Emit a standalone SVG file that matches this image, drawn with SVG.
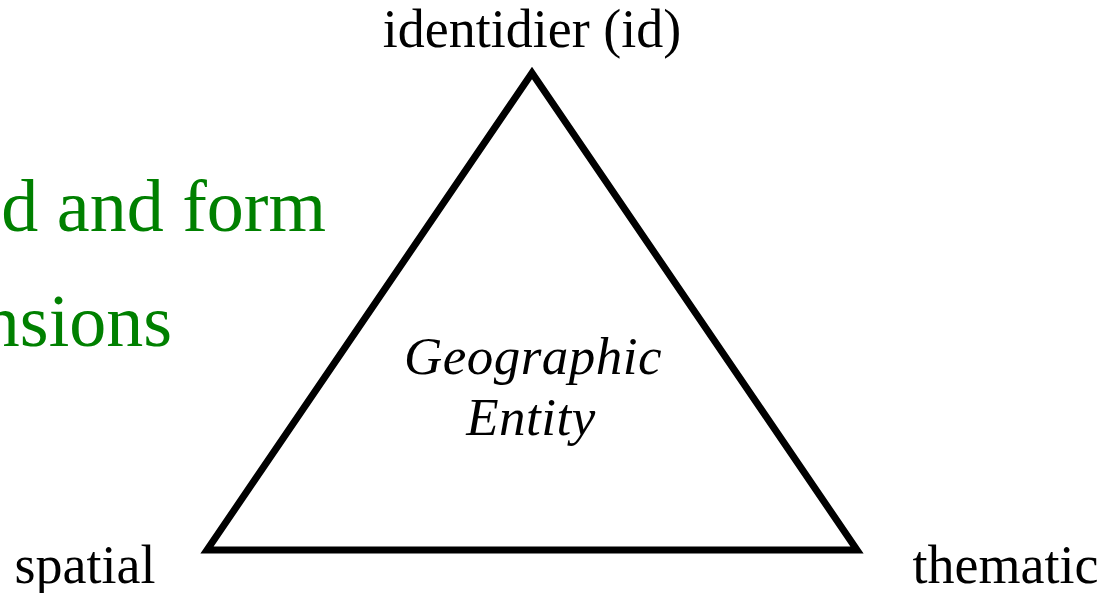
<svg xmlns="http://www.w3.org/2000/svg" width="1111" height="593" viewBox="0 0 1111 593">
  <style>
    .lbl { font-family: "Liberation Serif", "Times New Roman", serif; font-size: 54px; fill: #000; }
    .green { font-family: "Liberation Serif", "Times New Roman", serif; font-size: 74px; fill: #008000; }
    .ent { font-family: "Liberation Serif", "Times New Roman", serif; font-size: 53px; font-style: italic; fill: #000; text-anchor: middle; letter-spacing: 0.5px; }
    .tri { fill: none; stroke: #000; stroke-width: 7; stroke-linejoin: miter; stroke-miterlimit: 10; }
  </style>
  <rect width="1111" height="593" fill="#fff"/>
  <g id="side-text">
    <text class="green" x="326" y="231" text-anchor="end">ed and form</text>
    <text class="green" x="172" y="346" text-anchor="end">nsions</text>
  </g>
  <g id="triangle">
    <polygon class="tri" points="532,73 207,550 857,550"/>
  </g>
  <g id="entity">
    <text class="ent" x="533" y="374">Geographic</text>
    <text class="ent" x="531" y="435">Entity</text>
  </g>
  <g id="node-id">
    <text class="lbl" x="532" y="47" text-anchor="middle">identidier (id)</text>
  </g>
  <g id="node-spatial">
    <text class="lbl" x="85" y="583" text-anchor="middle">spatial</text>
  </g>
  <g id="node-thematic">
    <text class="lbl" x="1005.5" y="583" text-anchor="middle">thematic</text>
  </g>
</svg>
